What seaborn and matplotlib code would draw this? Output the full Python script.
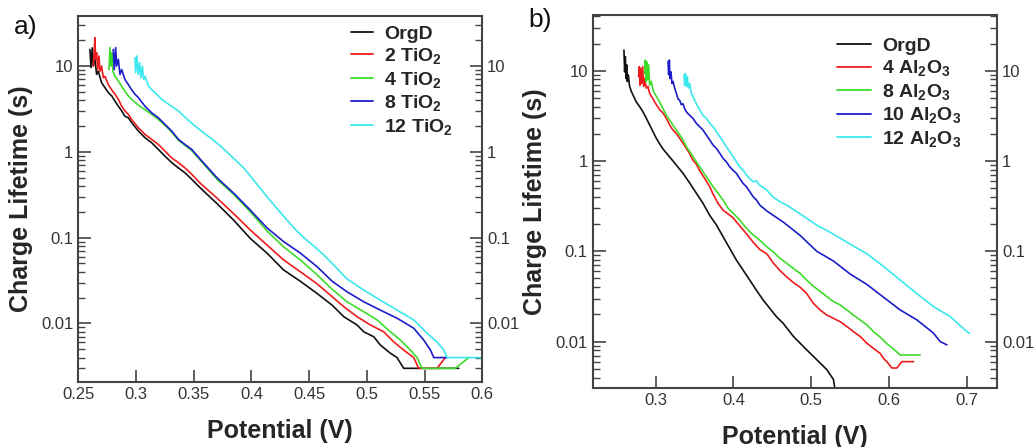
import numpy as np
import pandas as pd
import matplotlib
matplotlib.use("Agg")
import matplotlib.pyplot as plt
import seaborn as sns
from matplotlib.ticker import FixedLocator, NullFormatter, LogLocator

# ---------------- data: panel a (TiO2) ----------------
a_orgd_x = [0.2601, 0.2610, 0.2621, 0.2630, 0.2644, 0.2659, 0.2673, 0.2702, 0.2731, 0.2760, 0.2789, 0.2818,
            0.2847, 0.2876, 0.2904, 0.2933, 0.2962, 0.3020, 0.3078, 0.3135, 0.3193, 0.3251, 0.3309, 0.3367,
            0.3424, 0.3482, 0.3557, 0.3701, 0.3846, 0.3990, 0.4135, 0.4279, 0.4424, 0.4568, 0.4700, 0.4800,
            0.4915, 0.4973, 0.5060, 0.5117, 0.5204, 0.5262, 0.5319, 0.5796]
a_orgd_y = [15.6, 9.6, 16.3, 10.0, 12.0, 8.0, 8.7, 6.4, 5.6, 4.9, 4.5, 3.9,
            3.4, 3.0, 2.6, 2.5, 2.2, 1.75, 1.46, 1.28, 1.07, 0.89, 0.75, 0.65,
            0.57, 0.48, 0.38, 0.25, 0.16, 0.098, 0.066, 0.042, 0.031, 0.0224, 0.0163, 0.0120,
            0.0096, 0.0080, 0.0070, 0.0056, 0.0045, 0.0040, 0.0030, 0.0030]

a_ti2_x = [0.2630, 0.2639, 0.2644, 0.2650, 0.2659, 0.2668, 0.2679, 0.2688, 0.2702, 0.2717, 0.2731, 0.2760,
           0.2789, 0.2818, 0.2847, 0.2876, 0.2904, 0.2933, 0.2962, 0.3020, 0.3078, 0.3135, 0.3193, 0.3251,
           0.3309, 0.3367, 0.3424, 0.3482, 0.3557, 0.3701, 0.3846, 0.3990, 0.4135, 0.4279, 0.4424, 0.4568,
           0.4700, 0.4800, 0.4915, 0.5031, 0.5146, 0.5233, 0.5319, 0.5406, 0.5449, 0.5608, 0.5680]
a_ti2_y = [10.0, 15.6, 21.4, 12.0, 14.3, 9.1, 13.1, 8.7, 10.0, 7.3, 7.6, 6.1,
           5.3, 4.7, 4.1, 3.4, 3.0, 2.74, 2.39, 1.91, 1.60, 1.40, 1.22, 1.02,
           0.85, 0.75, 0.65, 0.55, 0.43, 0.29, 0.19, 0.123, 0.082, 0.055, 0.040, 0.029,
           0.0205, 0.0157, 0.0120, 0.0096, 0.0080, 0.0061, 0.0049, 0.0040, 0.0030, 0.0030, 0.0040]

a_ti4_x = [0.2766, 0.2774, 0.2783, 0.2792, 0.2800, 0.2818, 0.2847, 0.2876, 0.2904, 0.2933, 0.2962, 0.3020,
           0.3078, 0.3135, 0.3193, 0.3251, 0.3309, 0.3367, 0.3424, 0.3482, 0.3557, 0.3701, 0.3846, 0.3990,
           0.4135, 0.4279, 0.4424, 0.4568, 0.4700, 0.4828, 0.4973, 0.5088, 0.5204, 0.5291, 0.5377, 0.5435,
           0.5478, 0.5767, 0.5883]
a_ti4_y = [9.1, 16.4, 10.0, 14.3, 8.7, 7.6, 6.7, 5.8, 5.1, 4.5, 4.1, 3.5,
           3.1, 2.74, 2.39, 2.04, 1.70, 1.37, 1.19, 1.04, 0.80, 0.48, 0.32, 0.20,
           0.12, 0.078, 0.055, 0.037, 0.025, 0.0179, 0.0137, 0.0110, 0.0080, 0.0064, 0.0049, 0.0040,
           0.0030, 0.0030, 0.0040]

a_ti8_x = [0.2803, 0.2812, 0.2824, 0.2832, 0.2847, 0.2861, 0.2876, 0.2904, 0.2933, 0.2962, 0.2991, 0.3020,
           0.3078, 0.3135, 0.3193, 0.3251, 0.3309, 0.3367, 0.3424, 0.3482, 0.3557, 0.3701, 0.3846, 0.3990,
           0.4135, 0.4279, 0.4424, 0.4568, 0.4700, 0.4828, 0.4973, 0.5117, 0.5262, 0.5406, 0.5493, 0.5551,
           0.5580, 0.5695]
a_ti8_y = [15.6, 9.1, 16.4, 10.0, 12.0, 8.0, 9.1, 7.0, 6.1, 5.3, 4.7, 4.3,
           3.4, 2.86, 2.50, 2.09, 1.75, 1.40, 1.22, 1.07, 0.82, 0.50, 0.33, 0.21,
           0.13, 0.090, 0.066, 0.046, 0.031, 0.0234, 0.0179, 0.0143, 0.0115, 0.0088, 0.0064, 0.0049,
           0.0040, 0.0040]

a_ti12_x = [0.2991, 0.2997, 0.3008, 0.3020, 0.3031, 0.3043, 0.3055, 0.3066, 0.3078, 0.3107, 0.3135, 0.3179,
            0.3222, 0.3294, 0.3367, 0.3439, 0.3511, 0.3583, 0.3655, 0.3728, 0.3800, 0.3872, 0.3944, 0.4002,
            0.4060, 0.4135, 0.4220, 0.4300, 0.4380, 0.4453, 0.4540, 0.4626, 0.4700, 0.4828, 0.4973, 0.5117,
            0.5262, 0.5406, 0.5522, 0.5608, 0.5666, 0.5695, 0.6000]
a_ti12_y = [12.5, 8.4, 13.1, 8.0, 10.9, 7.3, 10.0, 7.0, 7.6, 5.9, 5.3, 4.7,
            4.1, 3.5, 3.0, 2.43, 2.0, 1.68, 1.42, 1.18, 0.96, 0.78, 0.625, 0.50,
            0.40, 0.30, 0.22, 0.165, 0.125, 0.100, 0.080, 0.063, 0.050, 0.033, 0.0245, 0.0187,
            0.0143, 0.0110, 0.0077, 0.0061, 0.0049, 0.0040, 0.0040]

# ---------------- data: panel b (Al2O3) ----------------
b_orgd_x = [0.2592, 0.2601, 0.2610, 0.2618, 0.2627, 0.2635, 0.2648, 0.2665, 0.2687, 0.2708, 0.2751, 0.2794,
            0.2837, 0.2880, 0.2923, 0.2966, 0.3009, 0.3051, 0.3094, 0.3160, 0.3223, 0.3352, 0.3438, 0.3523,
            0.3609, 0.3695, 0.3781, 0.3867, 0.3952, 0.4038, 0.4124, 0.4210, 0.4296, 0.4381, 0.4467, 0.4553,
            0.4639, 0.4772, 0.4943, 0.5072, 0.5201, 0.5287, 0.5308, 0.5340]
b_orgd_y = [16.9, 9.7, 14.3, 8.2, 11.6, 7.6, 9.0, 6.7, 5.9, 5.4, 4.5, 4.0,
            3.5, 2.97, 2.50, 2.11, 1.78, 1.55, 1.36, 1.16, 1.00, 0.73, 0.57, 0.44,
            0.34, 0.25, 0.196, 0.145, 0.108, 0.080, 0.062, 0.048, 0.037, 0.029, 0.0234, 0.0189,
            0.0160, 0.0114, 0.0081, 0.0063, 0.0049, 0.0038, 0.0029, 0.0025]

b_al4_x = [0.2781, 0.2790, 0.2798, 0.2807, 0.2820, 0.2833, 0.2846, 0.2858, 0.2880, 0.2901, 0.2923, 0.2944,
           0.2966, 0.2987, 0.3009, 0.3051, 0.3094, 0.3137, 0.3180, 0.3223, 0.3266, 0.3309, 0.3352, 0.3395,
           0.3438, 0.3480, 0.3523, 0.3566, 0.3631, 0.3695, 0.3738, 0.3802, 0.3867, 0.3931, 0.3995, 0.4085,
           0.4171, 0.4257, 0.4343, 0.4429, 0.4514, 0.4600, 0.4686, 0.4772, 0.4858, 0.4943, 0.5029, 0.5115,
           0.5201, 0.5287, 0.5373, 0.5459, 0.5544, 0.5630, 0.5716, 0.5802, 0.5888, 0.5931, 0.5973, 0.6038,
           0.6102, 0.6166, 0.6317]
b_al4_y = [8.6, 11.1, 6.9, 10.6, 7.2, 11.1, 6.7, 8.2, 6.4, 6.7, 5.6, 5.2,
           4.9, 4.5, 4.2, 3.7, 3.4, 2.97, 2.50, 2.20, 2.02, 1.78, 1.57, 1.38,
           1.20, 1.02, 0.92, 0.78, 0.64, 0.52, 0.43, 0.34, 0.285, 0.26, 0.235, 0.19,
           0.155, 0.125, 0.104, 0.094, 0.074, 0.061, 0.052, 0.045, 0.040, 0.034, 0.0265, 0.0224,
           0.0197, 0.0181, 0.0166, 0.0147, 0.0129, 0.0114, 0.0096, 0.0084, 0.0074, 0.0065, 0.0060, 0.0051,
           0.0051, 0.0060, 0.0060]

b_al8_x = [0.2858, 0.2867, 0.2876, 0.2884, 0.2897, 0.2910, 0.2923, 0.2944, 0.2966, 0.2987, 0.3009, 0.3051,
           0.3094, 0.3137, 0.3180, 0.3223, 0.3266, 0.3309, 0.3352, 0.3395, 0.3438, 0.3480, 0.3523, 0.3566,
           0.3609, 0.3652, 0.3695, 0.3738, 0.3802, 0.3867, 0.3931, 0.3995, 0.4081, 0.4167, 0.4253, 0.4338,
           0.4424, 0.4510, 0.4596, 0.4682, 0.4767, 0.4858, 0.4943, 0.5029, 0.5115, 0.5201, 0.5287, 0.5373,
           0.5459, 0.5544, 0.5630, 0.5716, 0.5802, 0.5888, 0.5973, 0.6059, 0.6145, 0.6402]
b_al8_y = [9.3, 13.1, 7.6, 12.6, 7.9, 11.6, 6.9, 7.6, 6.1, 5.6, 5.2, 4.5,
           3.8, 3.2, 2.84, 2.50, 2.20, 1.94, 1.71, 1.44, 1.27, 1.12, 0.98, 0.865,
           0.76, 0.67, 0.59, 0.52, 0.44, 0.37, 0.30, 0.265, 0.222, 0.180, 0.152, 0.133,
           0.113, 0.099, 0.084, 0.074, 0.065, 0.057, 0.048, 0.041, 0.036, 0.0315, 0.0277, 0.0255,
           0.0224, 0.0197, 0.0174, 0.0153, 0.0129, 0.0112, 0.0095, 0.0083, 0.0071, 0.0071]

b_al10_x = [0.3159, 0.3167, 0.3176, 0.3184, 0.3197, 0.3210, 0.3223, 0.3245, 0.3266, 0.3287, 0.3309, 0.3330,
            0.3352, 0.3373, 0.3395, 0.3438, 0.3480, 0.3523, 0.3566, 0.3609, 0.3652, 0.3695, 0.3738, 0.3781,
            0.3824, 0.3867, 0.3909, 0.3952, 0.3995, 0.4038, 0.4081, 0.4124, 0.4167, 0.4210, 0.4253, 0.4296,
            0.4338, 0.4429, 0.4643, 0.4858, 0.5072, 0.5287, 0.5501, 0.5716, 0.5931, 0.6145, 0.6360, 0.6574,
            0.6660, 0.6746]
b_al10_y = [12.6, 9.0, 13.1, 8.2, 9.7, 7.2, 7.6, 6.4, 5.6, 4.9, 4.7, 4.2,
            4.3, 3.8, 3.5, 3.2, 2.97, 2.61, 2.40, 2.20, 1.94, 1.71, 1.50, 1.38,
            1.22, 1.07, 0.98, 0.865, 0.79, 0.73, 0.64, 0.566, 0.52, 0.458, 0.403, 0.37,
            0.326, 0.28, 0.210, 0.150, 0.100, 0.078, 0.056, 0.043, 0.031, 0.0224, 0.0174, 0.0124,
            0.0100, 0.0092]

b_al12_x = [0.3365, 0.3373, 0.3382, 0.3395, 0.3408, 0.3420, 0.3438, 0.3459, 0.3480, 0.3502, 0.3523, 0.3566,
            0.3609, 0.3652, 0.3695, 0.3738, 0.3781, 0.3824, 0.3867, 0.3909, 0.3952, 0.3995, 0.4038, 0.4081,
            0.4124, 0.4167, 0.4210, 0.4253, 0.4296, 0.4338, 0.4424, 0.4510, 0.4596, 0.4682, 0.4858, 0.5072,
            0.5287, 0.5501, 0.5716, 0.5931, 0.6145, 0.6360, 0.6574, 0.6789, 0.7003, 0.7037]
b_al12_y = [9.0, 6.9, 9.3, 6.7, 8.6, 6.4, 7.2, 5.6, 5.2, 4.7, 4.3, 3.7,
            3.2, 2.97, 2.61, 2.40, 2.11, 1.86, 1.64, 1.44, 1.27, 1.12, 0.98, 0.865,
            0.79, 0.70, 0.64, 0.59, 0.60, 0.54, 0.48, 0.40, 0.355, 0.326, 0.26, 0.195,
            0.155, 0.120, 0.094, 0.068, 0.048, 0.034, 0.0244, 0.0189, 0.0129, 0.0124]

a_labels = ["OrgD", r"2 TiO$_\mathbf{2}$", r"4 TiO$_\mathbf{2}$", r"8 TiO$_\mathbf{2}$", r"12 TiO$_\mathbf{2}$"]
b_labels = ["OrgD", r"4 Al$_\mathbf{2}$O$_\mathbf{3}$", r"8 Al$_\mathbf{2}$O$_\mathbf{3}$",
            r"10 Al$_\mathbf{2}$O$_\mathbf{3}$", r"12 Al$_\mathbf{2}$O$_\mathbf{3}$"]
ytick_vals = [0.01, 0.1, 1, 10]
ytick_labels = ["0.01", "0.1", "1", "10"]
a_xticks = [0.25, 0.3, 0.35, 0.4, 0.45, 0.5, 0.55, 0.6]
a_xtick_labels = ["0.25", "0.3", "0.35", "0.4", "0.45", "0.5", "0.55", "0.6"]
b_xticks = [0.3, 0.4, 0.5, 0.6, 0.7]
b_xtick_labels = ["0.3", "0.4", "0.5", "0.6", "0.7"]

colors = ["#111111", "#ee1c1c", "#3ddc2a", "#1c1cc8", "#3ae8ee"]

# ---------------- style ----------------
sns.set_style("ticks")
plt.rcParams["font.family"] = ["Liberation Sans", "DejaVu Sans"]
plt.rcParams["mathtext.fontset"] = "custom"
plt.rcParams["mathtext.rm"] = "Liberation Sans:bold"
plt.rcParams["mathtext.bf"] = "Liberation Sans:bold"
plt.rcParams["mathtext.it"] = "Liberation Sans:bold"


def make_df(xs, ys, labels):
    frames = []
    for x, y, lab in zip(xs, ys, labels):
        frames.append(pd.DataFrame({"V": x, "tau": y, "series": lab}))
    return pd.concat(frames, ignore_index=True)


df_a = make_df([a_orgd_x, a_ti2_x, a_ti4_x, a_ti8_x, a_ti12_x],
               [a_orgd_y, a_ti2_y, a_ti4_y, a_ti8_y, a_ti12_y], a_labels)
df_b = make_df([b_orgd_x, b_al4_x, b_al8_x, b_al10_x, b_al12_x],
               [b_orgd_y, b_al4_y, b_al8_y, b_al10_y, b_al12_y], b_labels)

fig = plt.figure(figsize=(10.34, 4.47), dpi=100)
ax_a = fig.add_axes([0.0757, 0.1447, 0.3907, 0.8195])
ax_b = fig.add_axes([0.5732, 0.1313, 0.3913, 0.8352])

spine_col = "#444444"
tick_col = "#333333"


def style_axes(ax, xlim, ylim, xticks, xlabels):
    ax.set_yscale("log")
    ax.set_xlim(*xlim)
    ax.set_ylim(*ylim)
    ax.set_xticks(xticks)
    ax.set_xticklabels(xlabels)
    ax.yaxis.set_major_locator(FixedLocator(ytick_vals))
    ax.set_yticklabels(ytick_labels)
    ax.yaxis.set_minor_locator(LogLocator(base=10, subs=np.arange(2, 10), numticks=20))
    ax.yaxis.set_minor_formatter(NullFormatter())
    ax.tick_params(axis="both", which="both", direction="in", colors=spine_col,
                   labelcolor=tick_col, labelsize=12)
    ax.tick_params(axis="y", which="both", left=True, right=True, labelright=True)
    ax.tick_params(axis="x", which="both", top=False)
    ax.tick_params(which="major", length=9, width=1.2)
    ax.tick_params(which="minor", length=5, width=1.0)
    for s in ax.spines.values():
        s.set_visible(True)
        s.set_color(spine_col)
        s.set_linewidth(1.5)
    ax.set_xlabel("Potential (V)", fontsize=18, fontweight="bold", labelpad=12)
    ax.set_ylabel("Charge Lifetime (s)", fontsize=18, fontweight="bold", labelpad=6)


for ax, df, labels in [(ax_a, df_a, a_labels), (ax_b, df_b, b_labels)]:
    sns.lineplot(data=df, x="V", y="tau", hue="series", hue_order=labels, palette=colors,
                 estimator=None, sort=False, units="series", linewidth=1.2, ax=ax, legend=True)

style_axes(ax_a, (0.25, 0.6), (0.00206, 38.3), a_xticks, a_xtick_labels)
style_axes(ax_b, (0.219, 0.7394), (0.00304, 41.4), b_xticks, b_xtick_labels)

leg_a = ax_a.legend(loc="upper left", bbox_to_anchor=(0.675, 0.975), frameon=False, fontsize=14,
                    handlelength=1.15, handletextpad=0.55, labelspacing=0.18, borderpad=0, borderaxespad=0)
leg_b = ax_b.legend(loc="upper left", bbox_to_anchor=(0.603, 0.94), frameon=False, fontsize=14,
                    handlelength=1.75, handletextpad=0.6, labelspacing=0.18, borderpad=0, borderaxespad=0)
for leg in (leg_a, leg_b):
    for t in leg.get_texts():
        t.set_fontweight("bold")
    for h in leg.get_lines():
        h.set_linewidth(1.3)

fig.text(0.013, 0.925, "a)", fontsize=19, color="#111111")
fig.text(0.511, 0.94, "b)", fontsize=19, color="#111111")

fig.savefig("out.png", dpi=100)
